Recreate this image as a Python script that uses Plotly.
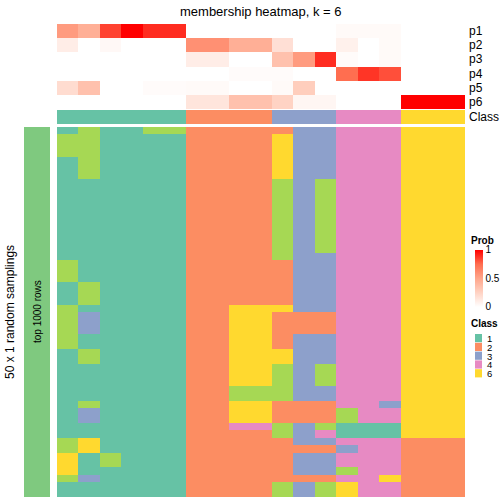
import plotly.graph_objects as go

W = H = 504

# ---- data ----
row_names = ["p1", "p2", "p3", "p4", "p5", "p6"]
p1 = [0.55, 0.45, 0.85, 1.0, 0.9, 0.9, 0, 0, 0, 0, 0, 0, 0, 0.03, 0.03, 0.03, 0, 0, 0]
p2 = [0.1, 0, 0.04, 0, 0, 0, 0.6, 0.6, 0.45, 0.45, 0.18, 0, 0, 0.08, 0, 0.03, 0, 0, 0]
p3 = [0, 0, 0, 0, 0, 0, 0.1, 0.1, 0, 0, 0.35, 0.55, 0.9, 0.02, 0, 0.03, 0, 0, 0]
p4 = [0, 0, 0, 0, 0, 0, 0, 0, 0.02, 0.02, 0.02, 0, 0, 0.75, 0.88, 0.82, 0, 0, 0]
p5 = [0.2, 0.35, 0, 0, 0.02, 0.02, 0.03, 0.03, 0, 0, 0.03, 0.28, 0, 0, 0, 0, 0, 0, 0]
p6 = [0, 0, 0, 0, 0, 0, 0.15, 0.15, 0.35, 0.35, 0.25, 0.05, 0.05, 0, 0, 0, 1, 1, 1]
top_class = [1, 1, 1, 1, 1, 1, 2, 2, 2, 2, 3, 3, 3, 4, 4, 4, 6, 6, 6]

# sampling classes per column, as (class, number of rows) runs, top to bottom (50 rows)
col_runs = [
    [(1, 1), (5, 3), (1, 14), (5, 3), (1, 3), (5, 6), (1, 12), (5, 2), (6, 3), (5, 1), (1, 2)],
    [(5, 7), (1, 14), (5, 3), (1, 1), (3, 3), (1, 2), (5, 2), (1, 5), (5, 1), (3, 2), (1, 2), (6, 2), (1, 3), (3, 1), (1, 2)],
    [(1, 44), (5, 2), (1, 4)],
    [(1, 50)],
    [(5, 1), (1, 49)],
    [(5, 1), (1, 49)],
    [(2, 50)],
    [(2, 50)],
    [(2, 24), (6, 11), (5, 2), (6, 3), (4, 1), (2, 9)],
    [(2, 24), (6, 11), (5, 2), (6, 3), (4, 1), (2, 9)],
    [(2, 1), (6, 6), (5, 11), (2, 6), (6, 1), (2, 5), (6, 2), (5, 5), (2, 3), (5, 2), (2, 6), (5, 2)],
    [(3, 25), (2, 3), (3, 9), (2, 3), (3, 3), (2, 1), (3, 3), (2, 1), (3, 2)],
    [(3, 7), (5, 10), (3, 8), (2, 3), (3, 4), (5, 3), (3, 2), (2, 3), (5, 1), (4, 1), (3, 1), (2, 1), (3, 3), (2, 1), (5, 2)],
    [(4, 38), (5, 2), (1, 2), (4, 1), (3, 1), (4, 2), (5, 1), (4, 1), (6, 2)],
    [(4, 40), (1, 2), (4, 8)],
    [(4, 37), (3, 1), (4, 2), (1, 2), (4, 5), (6, 1), (4, 2)],
    [(6, 42), (2, 8)],
    [(6, 42), (2, 8)],
    [(6, 42), (2, 8)],
]

class_colors = {1: "#66C2A5", 2: "#FC8D62", 3: "#8DA0CB", 4: "#E78AC3", 5: "#A6D854", 6: "#FFD92F"}
legend_classes = ["1", "2", "3", "4", "6"]

# ---- build matrices ----
ncol = len(top_class)
cols = []
for runs in col_runs:
    c = []
    for k, n in runs:
        c += [k] * n
    cols.append(c)
nrow = len(cols[0])
samp = [[cols[j][i] for j in range(ncol)] for i in range(nrow)]
prob = [p1, p2, p3, p4, p5, p6]

def px(x):
    return x / W

def py(y):
    return 1 - y / H

class_scale = []
for k in range(1, 7):
    class_scale.append([(k - 1) / 6, class_colors[k]])
    class_scale.append([k / 6, class_colors[k]])

prob_scale = [[0, "#FFFFFF"], [0.25, "#FFD3C4"], [0.5, "#FFA68B"], [0.75, "#FF6E50"], [1, "#FF0000"]]

FONT = "Liberation Sans, Arial"
xs = list(range(ncol))
fig = go.Figure()
fig.add_trace(go.Heatmap(
    z=prob, x=xs, y=row_names, colorscale=prob_scale, zmin=0, zmax=1,
    xaxis="x", yaxis="y", hoverinfo="skip",
    colorbar=dict(x=px(475), xanchor="left", y=py(278), yanchor="middle",
                  lenmode="pixels", len=57, thicknessmode="pixels", thickness=8,
                  tickvals=[0, 0.5, 1], ticktext=["0", "0.5", "1"], ticks="",
                  outlinewidth=0, ypad=0, xpad=0,
                  tickfont=dict(family=FONT, size=10, color="#000")),
))
fig.add_trace(go.Heatmap(
    z=[top_class], x=xs, y=["Class"], colorscale=class_scale, zmin=0.5, zmax=6.5,
    showscale=False, xaxis="x", yaxis="y2", hoverinfo="skip",
))
fig.add_trace(go.Heatmap(
    z=samp, x=xs, y=list(range(nrow)), colorscale=class_scale, zmin=0.5, zmax=6.5,
    showscale=False, xaxis="x", yaxis="y3", hoverinfo="skip",
))

ax_common = dict(showticklabels=False, showgrid=False, zeroline=False, ticks="", showline=False)
fig.update_layout(
    width=W, height=H, margin=dict(l=0, r=0, t=0, b=0),
    paper_bgcolor="white", plot_bgcolor="white",
    xaxis=dict(domain=[px(57), px(465)], range=[-0.5, ncol - 0.5], **ax_common),
    yaxis=dict(domain=[py(109), py(24)], autorange="reversed", anchor="x", **ax_common),
    yaxis2=dict(domain=[py(124), py(110)], anchor="x", **ax_common),
    yaxis3=dict(domain=[py(497), py(127)], autorange="reversed", anchor="x", **ax_common),
    showlegend=False,
    font=dict(family=FONT, color="#000"),
)

shapes = []
ann = []
ann.append(dict(text="membership heatmap, k = 6", x=px(261), y=py(11), xref="paper", yref="paper",
                showarrow=False, font=dict(size=13), xanchor="center", yanchor="middle"))
row_top = 24
row_h = (109 - 24) / 6
for i, nm in enumerate(row_names):
    ann.append(dict(text=nm, x=px(467), y=py(row_top + row_h * (i + 0.5)), xref="paper", yref="paper",
                    showarrow=False, font=dict(size=12), xanchor="left", yanchor="middle"))
ann.append(dict(text="Class", x=px(467), y=py(117), xref="paper", yref="paper",
                showarrow=False, font=dict(size=12), xanchor="left", yanchor="middle"))
shapes.append(dict(type="rect", xref="paper", yref="paper", x0=px(24), x1=px(50), y0=py(497), y1=py(127),
                   fillcolor="#7FC97F", line=dict(width=0)))
ann.append(dict(text="top 1000 rows", x=px(37), y=py(312), xref="paper", yref="paper", textangle=-90,
                showarrow=False, font=dict(size=10), xanchor="center", yanchor="middle"))
ann.append(dict(text="50 x 1 random samplings", x=px(10), y=py(312), xref="paper", yref="paper", textangle=-90,
                showarrow=False, font=dict(size=12), xanchor="center", yanchor="middle"))
ann.append(dict(text="<b>Prob</b>", x=px(469), y=py(240), xref="paper", yref="paper",
                showarrow=False, font=dict(size=10), xanchor="left", yanchor="middle"))
ann.append(dict(text="<b>Class</b>", x=px(469), y=py(323), xref="paper", yref="paper",
                showarrow=False, font=dict(size=10), xanchor="left", yanchor="middle"))
leg_y0 = 334
leg_h = 8.8
for i, lab in enumerate(legend_classes):
    y0 = leg_y0 + i * leg_h
    shapes.append(dict(type="rect", xref="paper", yref="paper", x0=px(475), x1=px(482),
                       y0=py(y0 + leg_h - 0.6), y1=py(y0), fillcolor=class_colors[int(lab)],
                       line=dict(width=0)))
    ann.append(dict(text=lab, x=px(485), y=py(y0 + leg_h / 2), xref="paper", yref="paper",
                    showarrow=False, font=dict(size=9.5), xanchor="left", yanchor="middle"))

fig.update_layout(shapes=shapes, annotations=ann)
fig.write_html("out.html", config={"displayModeBar": False},
               post_script="document.body.style.margin='0px';document.body.style.overflow='hidden';")
